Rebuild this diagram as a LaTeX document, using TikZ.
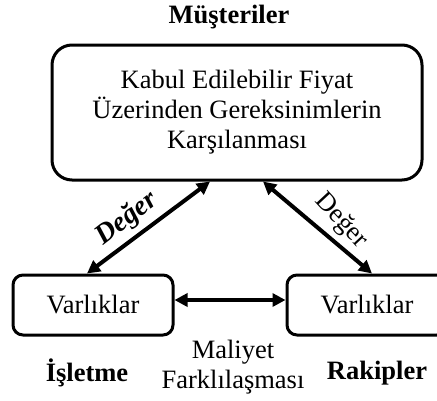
\documentclass[tikz,border=0pt]{standalone}
\usepackage{fontspec}
\setmainfont{Liberation Serif}
\usetikzlibrary{arrows.meta}

\tikzset{
  txt/.style={font=\fontsize{26.5}{30}\selectfont, align=center, inner sep=0pt},
  bigbox/.style={draw, line width=3pt, rounded corners=20pt, minimum width=370pt, minimum height=135pt, txt},
  smallbox/.style={draw, line width=3pt, rounded corners=10pt, minimum width=160pt, minimum height=60pt, txt},
  arr/.style={line width=4pt, {Triangle[length=13pt,width=13pt]}-{Triangle[length=13pt,width=13pt]}},
  caption/.style={txt, font=\fontsize{26.5}{30}\selectfont\bfseries},
  tag/.style={txt}
}

\begin{document}
\begin{tikzpicture}[x=1pt, y=-1pt]
  \useasboundingbox (0,0) rectangle (437,400);

  % customers and their requirement
  \node[caption] (cust) at (229,17) {Müşteriler};
  \node[bigbox] (top) at (237,112.5) {Kabul Edilebilir Fiyat\\Üzerinden Gereksinimlerin\\Karşılanması};

  % firm and competitors
  \node[smallbox] (lbox) at (93,305) {Varlıklar};
  \node[smallbox] (rbox) at (367,305) {Varlıklar};
  \node[caption] (firm) at (87,373) {İşletme};
  \node[caption] (comp) at (377,373) {Rakipler};
  \node[tag] (cost) at (233,367.5) {Maliyet\\Farklılaşması};

  % value and cost relations
  \draw[arr] ([xshift=-6pt]lbox.north) -- ([xshift=-27pt]top.south);
  \draw[arr] ([xshift=26pt]top.south) -- ([xshift=5pt]rbox.north);
  \draw[arr] ([yshift=5pt]lbox.east) -- ([yshift=5pt]rbox.west);

  \node[tag, rotate=38, font=\fontsize{28}{30}\selectfont\bfseries\itshape] (vl) at (127,219) {Değer};
  \node[tag, rotate=-47] (vr) at (341,221) {Değer};
\end{tikzpicture}
\end{document}
